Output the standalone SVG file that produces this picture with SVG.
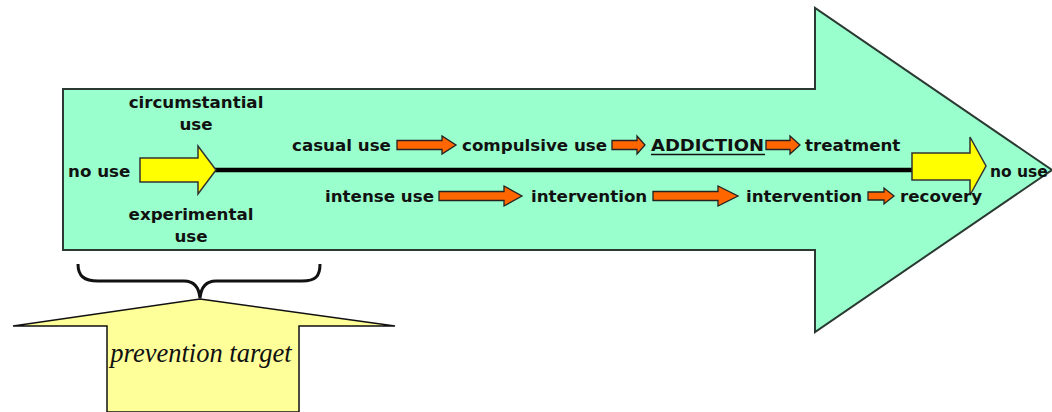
<svg xmlns="http://www.w3.org/2000/svg" width="1052" height="412" viewBox="0 0 1052 412">
<style>
.t{font-family:"DejaVu Sans",Verdana,sans-serif;font-weight:bold;font-size:16.7px;fill:#111}
.m{text-anchor:middle}
.or{fill:#ff6600;stroke:#222;stroke-width:1.3;stroke-linejoin:miter}
.ye{fill:#ffff00;stroke:#333;stroke-width:1.5}
</style>
<rect width="1052" height="412" fill="#fff"/>
<g id="big-arrow">
<path d="M63,89 H815 V8 L1052,170 L815,332 V250 H63 Z" fill="#99ffcc" stroke="#2a3a33" stroke-width="2"/>
</g>
<g id="connectors">
<line x1="214" y1="170" x2="914" y2="170" stroke="#000" stroke-width="4.5"/>
<path class="ye" d="M140,158 H198 V146 L216,170 L198,194 V182 H140 Z"/>
<path class="ye" d="M912,153 H970 V137 L986,166 L970,195 V180 H912 Z"/>
<path class="or" d="M397,140.5 H442 V136 L456,145 L442,154 V149.5 H397 Z"/>
<path class="or" d="M612,140.5 H637 V136 L645,145 L637,154 V149.5 H612 Z"/>
<path class="or" d="M766,140.5 H790 V136 L800,145 L790,154 V149.5 H766 Z"/>
<path class="or" d="M439,191.5 H504 V186 L522,196 L504,206 V200.5 H439 Z"/>
<path class="or" d="M653,191.5 H718 V186 L738,196 L718,206 V200.5 H653 Z"/>
<path class="or" d="M868,192 H884 V188 L894,196 L884,204 V200 H868 Z"/>
</g>
<g id="node-no-use-left"><text class="t" x="68" y="177">no use</text></g>
<g id="node-circumstantial"><text class="t m" x="196" y="108">circumstantial</text><text class="t m" x="196" y="130">use</text></g>
<g id="node-experimental"><text class="t m" x="191" y="220">experimental</text><text class="t m" x="191" y="242">use</text></g>
<g id="node-casual"><text class="t" x="292" y="151">casual use</text></g>
<g id="node-compulsive"><text class="t" x="462" y="151">compulsive use</text></g>
<g id="node-addiction"><text class="t" x="651" y="151" textLength="113" lengthAdjust="spacingAndGlyphs">ADDICTION</text><line x1="651" y1="154.5" x2="765" y2="154.5" stroke="#111" stroke-width="1.6"/></g>
<g id="node-treatment"><text class="t" x="805" y="151">treatment</text></g>
<g id="node-intense"><text class="t" x="325" y="202">intense use</text></g>
<g id="node-intervention1"><text class="t" x="531" y="202">intervention</text></g>
<g id="node-intervention2"><text class="t" x="746" y="202">intervention</text></g>
<g id="node-recovery"><text class="t" x="900" y="202">recovery</text></g>
<g id="node-no-use-right"><text class="t" x="990" y="177" style="font-size:15.5px">no use</text></g>
<g id="brace">
<path d="M78,264 C78,276 84,281 98,281 L184,281 C194,281 199,288 200,298 C201,288 206,281 216,281 L302,281 C316,281 320,276 320,264" fill="none" stroke="#111" stroke-width="3"/>
</g>
<g id="node-prevention">
<path d="M200,299 L395,326 H299 V412 H107 V326 H13 Z" fill="#ffff99" stroke="#111" stroke-width="1.5"/>
<text x="201" y="362" font-family="'Liberation Serif','Times New Roman',serif" font-style="italic" font-size="26.5" fill="#111" text-anchor="middle">prevention target</text>
</g>
</svg>
